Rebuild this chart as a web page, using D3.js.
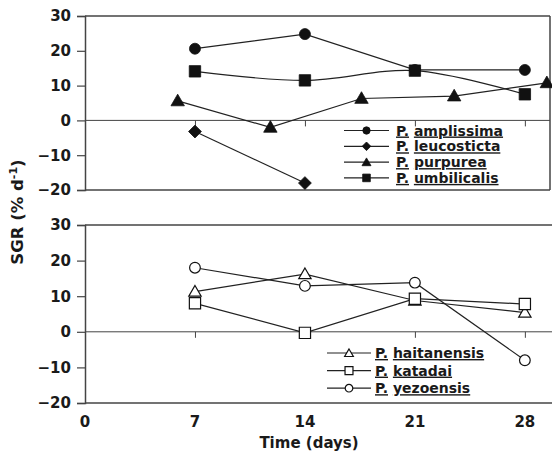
<!DOCTYPE html>
<html lang="en">
  <head>
    <meta charset="UTF-8" />
    <title>SGR</title>
    <script src="https://d3js.org/d3.v7.min.js"></script>
    <style>
      body {
        margin: 0;
        background: #fff;
      }
      svg text {
        font-family: "DejaVu Sans", sans-serif;
        font-weight: bold;
        fill: #1a1a1a;
      }
      .legend text {
        font-size: 14px;
      }
      .u {
        text-decoration: underline;
      }
    </style>
  </head>
  <body>
    <svg id="chart" width="552" height="460"></svg>
    <script>
      // Top panel (filled markers)
      const amplissimaDays = [7, 14, 21, 28];
      const amplissima = [20.6, 24.8, 14.5, 14.5];
      const leucostictaDays = [7, 14];
      const leucosticta = [-3.2, -18];
      const purpureaDays = [5.9, 11.8, 17.6, 23.5, 29.4];
      const purpurea = [5.6, -2, 6.3, 7, 10.8];
      const umbilicalisDays = [7, 14, 21, 28];
      const umbilicalis = [14.1, 11.5, 14.3, 7.5];

      // Bottom panel (open markers)
      const haitanensisDays = [7, 14, 21, 28];
      const haitanensis = [11.3, 16.2, 8.8, 5.4];
      const katadaiDays = [7, 14, 21, 28];
      const katadai = [8, -0.3, 9.3, 7.8];
      const yezoensisDays = [7, 14, 21, 28];
      const yezoensis = [18, 12.9, 13.8, -8];

      const xTicks = [0, 7, 14, 21, 28];
      const yTicks = [-20, -10, 0, 10, 20, 30];

      const svg = d3.select("#chart");
      const x = d3.scaleLinear().domain([0, 29.6]).range([85, 550]);

      // marker shapes: [d3 symbol, area, rotation]
      const circleF = [d3.symbolCircle, 95, 0];
      const diamondF = [d3.symbolSquare, 82, 45];
      const triangleF = [d3.symbolTriangle, 78, 0];
      const squareF = [d3.symbolSquare, 130, 0];
      const circleO = [d3.symbolCircle, 90, 0];
      const triangleO = [d3.symbolTriangle, 66, 0];
      const squareO = [d3.symbolSquare, 126, 0];

      const panels = [
        {
          y: d3.scaleLinear().domain([-20, 30]).range([190, 16]),
          right: 550,
          series: [
            { name: "amplissima", days: amplissimaDays, vals: amplissima, mk: circleF, fill: true, curve: d3.curveLinear },
            { name: "leucosticta", days: leucostictaDays, vals: leucosticta, mk: diamondF, fill: true, curve: d3.curveLinear },
            { name: "purpurea", days: purpureaDays, vals: purpurea, mk: triangleF, fill: true, curve: d3.curveLinear },
            { name: "umbilicalis", days: umbilicalisDays, vals: umbilicalis, mk: squareF, fill: true, curve: d3.curveCatmullRom },
          ],
          legend: { x1: 344, x2: 389, tx: 396, y0: 130.5, dy: 15.8, size: 0.45 },
        },
        {
          y: d3.scaleLinear().domain([-20, 30]).range([403, 225]),
          right: 552,
          series: [
            { name: "haitanensis", days: haitanensisDays, vals: haitanensis, mk: triangleO, fill: false, curve: d3.curveLinear },
            { name: "katadai", days: katadaiDays, vals: katadai, mk: squareO, fill: false, curve: d3.curveLinear },
            { name: "yezoensis", days: yezoensisDays, vals: yezoensis, mk: circleO, fill: false, curve: d3.curveLinear },
          ],
          legend: { x1: 327, x2: 371, tx: 375, y0: 353, dy: 17.6, size: 0.5 },
        },
      ];

      panels.forEach((p) => {
        const y = p.y;
        const g = svg.append("g");
        const [yb, yt] = y.range();

        // frame
        g.append("line").attr("x1", 85).attr("x2", p.right).attr("y1", yt).attr("y2", yt)
          .attr("stroke", "#444").attr("stroke-width", 1.5);
        g.append("line").attr("x1", 85).attr("x2", p.right).attr("y1", yb).attr("y2", yb)
          .attr("stroke", "#444").attr("stroke-width", 1.5);
        if (p.right < 552)
          g.append("line").attr("x1", p.right).attr("x2", p.right).attr("y1", yt).attr("y2", yb)
            .attr("stroke", "#444").attr("stroke-width", 1.5);

        // zero line
        g.append("line").attr("x1", 85).attr("x2", p.right).attr("y1", y(0)).attr("y2", y(0))
          .attr("stroke", "#444").attr("stroke-width", 1);

        // x ticks hanging from zero line
        const xa = g.append("g").attr("transform", `translate(0,${y(0)})`)
          .call(d3.axisBottom(x).tickValues(xTicks.filter((d) => d > 0)).tickSize(6).tickFormat(""));
        xa.select(".domain").remove();
        xa.selectAll(".tick line").attr("stroke", "#444");

        // y axis
        const ya = g.append("g").attr("transform", "translate(85,0)")
          .call(d3.axisLeft(y).tickValues(yTicks).tickSize(8).tickPadding(6));
        ya.select(".domain").attr("stroke", "#444").attr("stroke-width", 1.5);
        ya.selectAll(".tick line").attr("stroke", "#444").attr("stroke-width", 1.2);
        ya.selectAll(".tick text").attr("font-family", null).attr("font-size", null)
          .style("font-size", "15px");

        const marker = (sel, mk, scale, fill, cx, cy) =>
          sel.attr("transform", `translate(${cx},${cy + (mk[0] === d3.symbolTriangle ? 1 : 0)}) rotate(${mk[2]})`)
            .attr("d", d3.symbol().type(mk[0]).size(mk[1] * scale))
            .attr("fill", fill ? "#111" : "#fff")
            .attr("stroke", "#111").attr("stroke-width", fill ? 0.8 : 1.2);

        // series
        p.series.forEach((s) => {
          const pts = s.days.map((d, i) => [x(d), y(s.vals[i])]);
          g.append("path")
            .attr("d", d3.line().curve(s.curve)(pts))
            .attr("fill", "none").attr("stroke", "#222").attr("stroke-width", 1.2);
          pts.forEach((d) => marker(g.append("path"), s.mk, 1, s.fill, d[0], d[1]));
        });

        // legend
        const L = p.legend;
        const lg = g.append("g").attr("class", "legend");
        p.series.forEach((s, i) => {
          const ly = L.y0 + i * L.dy;
          lg.append("line").attr("x1", L.x1).attr("x2", L.x2).attr("y1", ly).attr("y2", ly)
            .attr("stroke", "#222").attr("stroke-width", 1.2);
          marker(lg.append("path"), s.mk, L.size, s.fill, (L.x1 + L.x2) / 2, ly);
          const t = lg.append("text").attr("x", L.tx).attr("y", ly + 5);
          t.append("tspan").attr("class", "u").text("P.");
          t.append("tspan").text(" ");
          t.append("tspan").attr("class", "u").text(s.name);
        });
      });

      // x tick labels under bottom panel
      svg.append("g").selectAll("text").data(xTicks).enter().append("text")
        .attr("x", (d) => x(d)).attr("y", 427)
        .attr("text-anchor", "middle").style("font-size", "15px")
        .text((d) => d);

      // axis titles
      svg.append("text").attr("x", 309).attr("y", 448).attr("text-anchor", "middle")
        .style("font-size", "15px").text("Time (days)");

      const yt = svg.append("text").attr("transform", "translate(23,212) rotate(-90)")
        .attr("text-anchor", "middle").style("font-size", "16.5px");
      yt.append("tspan").text("SGR (% d");
      yt.append("tspan").attr("dy", -6).style("font-size", "11px").text("-1");
      yt.append("tspan").attr("dy", 6).text(")");
    </script>
  </body>
</html>
